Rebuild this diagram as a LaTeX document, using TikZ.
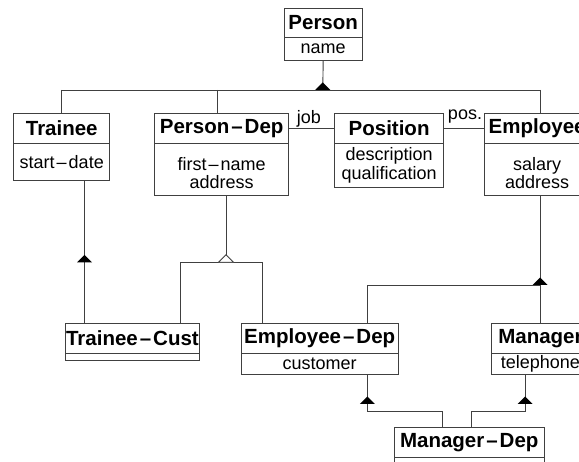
\documentclass[tikz,border=0pt]{standalone}
\usepackage{fontspec}
\setmainfont{Liberation Sans}
\newcommand\hy{\kern2pt–\kern2pt}
\tikzset{
  ln/.style={draw=black!75, line width=0.9pt},
  ttl/.style={ln, anchor=north west, inner sep=0pt, font=\bfseries\fontsize{20.5}{22}\selectfont},
  bdy/.style={ln, anchor=north west, inner sep=0pt, align=center, font=\fontsize{18}{18.4}\selectfont},
  lbl/.style={inner sep=0pt, font=\fontsize{18}{19}\selectfont},
  isatri/.pic={\fill[black] (-7.5,0) -- (7.5,0) -- (0,-7.5) -- cycle;},
  opentri/.pic={\filldraw[fill=white, draw=black!75, line width=0.9pt] (-7.5,0) -- (7.5,0) -- (0,-7.5) -- cycle;}
}
\begin{document}
\begin{tikzpicture}[x=1pt,y=-1pt]
\useasboundingbox (0,0) rectangle (579,462);
\fill[white] (0,0) rectangle (579,462);
\clip (0,0) rectangle (579,462);

% classes
\node[ttl, minimum width=78.3pt, minimum height=28.4pt] (person) at (283.6,8.3) {Person};
\node[bdy, minimum width=78.3pt, minimum height=23.3pt] (person-b) at (283.6,36.7) {name};

\node[ttl, minimum width=96pt, minimum height=29.4pt] (trainee) at (13.3,113.3) {Trainee};
\node[bdy, minimum width=96pt, minimum height=37.3pt] (trainee-b) at (13.3,142.7) {start\hy date};

\node[ttl, minimum width=133.6pt, minimum height=29.4pt] (pdep) at (154.4,113.3) {Person\hy Dep};
\node[bdy, minimum width=133.6pt, minimum height=52.3pt] (pdep-b) at (154.4,142.7) {\rule{0pt}{20pt}first\hy name\\address};

\node[ttl, minimum width=108.9pt, minimum height=29.4pt] (position) at (334.2,113.3) {Position};
\node[bdy, minimum width=108.9pt, minimum height=44pt, font=\fontsize{18}{19.4}\selectfont] (position-b) at (334.2,142.7) {description\\qualification};

\node[ttl, minimum width=106pt, minimum height=29.4pt] (employee) at (483.7,113.3) {Employee};
\node[bdy, minimum width=106pt, minimum height=52.3pt] (employee-b) at (483.7,142.7) {\rule{0pt}{20pt}salary\\address};

\node[ttl, minimum width=134.8pt, minimum height=30pt] (tcust) at (64.6,322.7) {Trainee\hy Cust};
\node[bdy, minimum width=134.8pt, minimum height=7.3pt] (tcust-b) at (64.6,352.7) {};

\node[ttl, minimum width=156.9pt, minimum height=30pt] (edep) at (240.8,322.7) {Employee\hy Dep};
\node[bdy, minimum width=156.9pt, minimum height=21.3pt] (edep-b) at (240.8,352.7) {customer};

\node[ttl, minimum width=97.8pt, minimum height=30pt] (manager) at (491.1,322.7) {Manager};
\node[bdy, minimum width=97.8pt, minimum height=21.3pt] (manager-b) at (491.1,352.7) {telephone};

\node[ttl, minimum width=149.6pt, minimum height=30pt] (mdep) at (394,427.3) {Manager\hy Dep};
\node[bdy, minimum width=149.6pt, minimum height=20pt] (mdep-b) at (394,457.3) {};

% generalisation from Person
\coordinate (bus) at (322.75,90);
\coordinate (busPD) at (217.9,90);
\coordinate (busE) at (540,90);
\draw[ln] (person-b.south) -- (bus);
\draw[ln] (trainee.north |- bus) -- (busE);
\draw[ln] (trainee.north |- bus) -- (trainee.north);
\draw[ln] (busPD) -- (busPD |- pdep.north);
\draw[ln] (busE) -- (busE |- employee.north);
\pic at (bus) {isatri};

% associations
\draw[ln] (pdep.east) -- (position.west);
\node[lbl] (job) at (309,118.5) {job};
\draw[ln] (position.east) -- (employee.west);
\node[lbl] (pos) at (465,116.5) {pos.};

% Trainee -> Trainee-Cust
\coordinate (j1) at (84.5,262.3);
\draw[ln] (j1 |- trainee-b.south) -- (j1 |- tcust.north);
\pic at (j1) {isatri};

% Person-Dep -> Trainee-Cust, Employee-Dep
\coordinate (j2) at (226,262.3);
\coordinate (j2l) at (180.2,262.3);
\coordinate (j2r) at (262.9,262.3);
\draw[ln] (j2 |- pdep-b.south) -- (j2);
\draw[ln] (j2l |- tcust.north) -- (j2l) -- (j2r) -- (j2r |- edep.north);
\pic at (j2) {opentri};

% Employee -> Manager, Employee-Dep
\coordinate (j3) at (540,285);
\coordinate (j3l) at (367.4,285);
\draw[ln] (j3 |- employee-b.south) -- (j3 |- manager.north);
\draw[ln] (j3) -- (j3l) -- (j3l |- edep.north);
\pic at (j3) {isatri};

% Employee-Dep, Manager -> Manager-Dep
\coordinate (j4) at (367.4,411.7);
\coordinate (j4r) at (442.4,411.7);
\coordinate (t4) at (367.4,404);
\draw[ln] (j4 |- edep-b.south) -- (j4) -- (j4r) -- (j4r |- mdep.north);
\pic at (t4) {isatri};
\coordinate (j5) at (525.1,411.7);
\coordinate (j5l) at (471.9,411.7);
\coordinate (t5) at (525.1,404);
\draw[ln] (j5 |- manager-b.south) -- (j5) -- (j5l) -- (j5l |- mdep.north);
\pic at (t5) {isatri};
\end{tikzpicture}
\end{document}
